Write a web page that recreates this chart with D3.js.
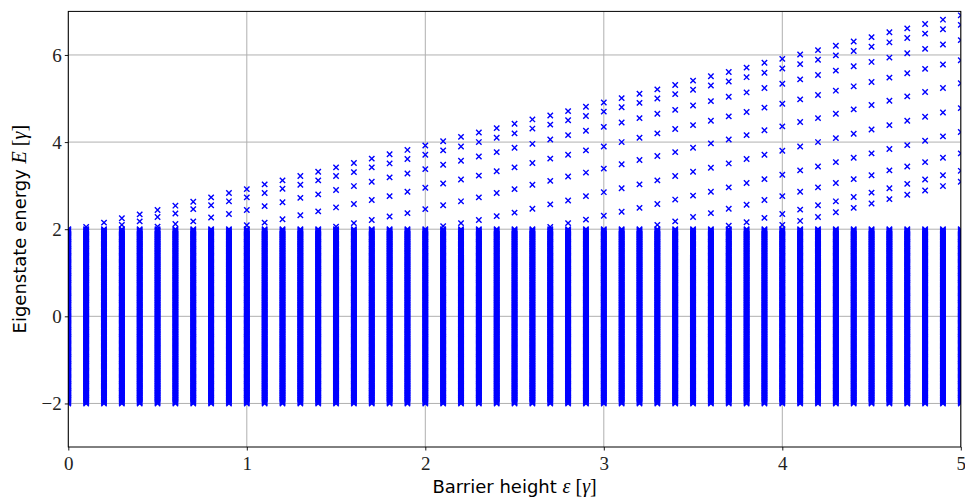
<!DOCTYPE html>
<html><head><meta charset="utf-8">
<script src="https://cdn.jsdelivr.net/npm/d3@7"></script>
<style>body{margin:0;background:#fff}svg{display:block}</style>
</head><body>
<svg id="chart" width="965" height="497"></svg>
<script>
// Barrier heights (x categories)
const epsilons = [0.0,0.1,0.2,0.3,0.4,0.5,0.6,0.7,0.8,0.9,1.0,1.1,1.2,1.3,1.4,1.5,1.6,1.7,1.8,1.9,2.0,2.1,2.2,2.3,2.4,2.5,2.6,2.7,2.8,2.9,3.0,3.1,3.2,3.3,3.4,3.5,3.6,3.7,3.8,3.9,4.0,4.1,4.2,4.3,4.4,4.5,4.6,4.7,4.8,4.9,5.0];

// Dense band of eigenstates between -2 and 2 (same in every column)
const bandLevels = [
-2.00,-1.98,-1.96,-1.94,-1.92,-1.90,-1.88,-1.86,-1.84,-1.82,-1.80,-1.78,-1.76,-1.74,-1.72,-1.70,-1.68,-1.66,-1.64,-1.62,
-1.60,-1.58,-1.56,-1.54,-1.52,-1.50,-1.48,-1.46,-1.44,-1.42,-1.40,-1.38,-1.36,-1.34,-1.32,-1.30,-1.28,-1.26,-1.24,-1.22,
-1.20,-1.18,-1.16,-1.14,-1.12,-1.10,-1.08,-1.06,-1.04,-1.02,-1.00,-0.98,-0.96,-0.94,-0.92,-0.90,-0.88,-0.86,-0.84,-0.82,
-0.80,-0.78,-0.76,-0.74,-0.72,-0.70,-0.68,-0.66,-0.64,-0.62,-0.60,-0.58,-0.56,-0.54,-0.52,-0.50,-0.48,-0.46,-0.44,-0.42,
-0.40,-0.38,-0.36,-0.34,-0.32,-0.30,-0.28,-0.26,-0.24,-0.22,-0.20,-0.18,-0.16,-0.14,-0.12,-0.10,-0.08,-0.06,-0.04,-0.02,
0.00,0.02,0.04,0.06,0.08,0.10,0.12,0.14,0.16,0.18,0.20,0.22,0.24,0.26,0.28,0.30,0.32,0.34,0.36,0.38,
0.40,0.42,0.44,0.46,0.48,0.50,0.52,0.54,0.56,0.58,0.60,0.62,0.64,0.66,0.68,0.70,0.72,0.74,0.76,0.78,
0.80,0.82,0.84,0.86,0.88,0.90,0.92,0.94,0.96,0.98,1.00,1.02,1.04,1.06,1.08,1.10,1.12,1.14,1.16,1.18,
1.20,1.22,1.24,1.26,1.28,1.30,1.32,1.34,1.36,1.38,1.40,1.42,1.44,1.46,1.48,1.50,1.52,1.54,1.56,1.58,
1.60,1.62,1.64,1.66,1.68,1.70,1.72,1.74,1.76,1.78,1.80,1.82,1.84,1.86,1.88,1.90,1.92,1.94,1.96,1.98,
2.00];

// Bound states above the band, one list per barrier height
const boundStates = [
  [],
  [2.05],
  [2.15],
  [2.25,2.10],
  [2.34,2.18],
  [2.44,2.28,2.06],
  [2.54,2.36,2.12],
  [2.63,2.46,2.18],
  [2.73,2.55,2.27],
  [2.83,2.64,2.35],
  [2.92,2.73,2.44,2.09],
  [3.03,2.83,2.53,2.15],
  [3.12,2.93,2.62,2.23],
  [3.22,3.02,2.72,2.32],
  [3.32,3.12,2.80,2.41],
  [3.42,3.22,2.90,2.50,2.06],
  [3.52,3.31,2.99,2.58,2.14],
  [3.62,3.42,3.09,2.67,2.21],
  [3.72,3.51,3.19,2.76,2.29],
  [3.82,3.61,3.28,2.86,2.37],
  [3.92,3.71,3.38,2.95,2.46],
  [4.02,3.81,3.48,3.05,2.55,2.07],
  [4.12,3.90,3.57,3.14,2.64,2.14],
  [4.22,4.00,3.67,3.23,2.73,2.21],
  [4.32,4.10,3.77,3.33,2.83,2.30],
  [4.42,4.20,3.87,3.42,2.92,2.38],
  [4.52,4.31,3.96,3.52,3.02,2.47],
  [4.61,4.40,4.06,3.62,3.11,2.57,2.05],
  [4.71,4.50,4.16,3.71,3.21,2.66,2.14],
  [4.81,4.60,4.26,3.81,3.30,2.76,2.22],
  [4.91,4.70,4.35,3.90,3.39,2.85,2.31],
  [5.01,4.80,4.45,4.00,3.49,2.94,2.40],
  [5.11,4.90,4.55,4.10,3.59,3.03,2.49],
  [5.21,5.00,4.65,4.20,3.68,3.12,2.58,2.10],
  [5.31,5.10,4.74,4.30,3.77,3.22,2.68,2.18],
  [5.41,5.20,4.84,4.39,3.87,3.32,2.77,2.28],
  [5.51,5.30,4.94,4.49,3.97,3.41,2.86,2.37],
  [5.61,5.39,5.04,4.59,4.06,3.51,2.96,2.47,2.08],
  [5.71,5.49,5.14,4.69,4.16,3.61,3.06,2.56,2.16],
  [5.82,5.59,5.24,4.79,4.27,3.71,3.15,2.67,2.26],
  [5.91,5.69,5.34,4.88,4.36,3.80,3.25,2.76,2.35,2.10],
  [6.01,5.79,5.44,4.98,4.46,3.90,3.35,2.86,2.45,2.19],
  [6.11,5.89,5.54,5.08,4.55,4.00,3.44,2.96,2.55,2.28],
  [6.21,5.99,5.64,5.18,4.65,4.09,3.54,3.06,2.64,2.39],
  [6.31,6.09,5.74,5.28,4.75,4.19,3.64,3.15,2.74,2.49],
  [6.41,6.19,5.84,5.38,4.85,4.29,3.74,3.24,2.84,2.59],
  [6.52,6.29,5.94,5.48,4.95,4.39,3.84,3.35,2.94,2.69],
  [6.61,6.39,6.04,5.58,5.05,4.49,3.93,3.44,3.04,2.79],
  [6.71,6.49,6.14,5.68,5.15,4.58,4.03,3.54,3.14,2.89],
  [6.81,6.59,6.24,5.78,5.24,4.68,4.13,3.64,3.24,2.99],
  [6.91,6.69,6.34,5.88,5.35,4.78,4.23,3.74,3.34,3.09]
];

const xTicks = [0,1,2,3,4,5];
const yTicks = [-2,0,2,4,6];
const xDomain = [0,5];
const yDomain = [-3,7];

const svg = d3.select('#chart');
const L = 68.3, R = 960.8, T = 11.4, B = 447;
const x = d3.scaleLinear().domain(xDomain).range([L, R]);
const y = d3.scaleLinear().domain(yDomain).range([B, T]);

svg.append('defs').append('clipPath').attr('id','clip')
  .append('rect').attr('x', L).attr('y', T).attr('width', R - L).attr('height', B - T);

// grid
const grid = svg.append('g');
grid.selectAll('line.gx').data(xTicks).join('line')
  .attr('class','gx')
  .attr('x1', d => x(d)).attr('x2', d => x(d)).attr('y1', T).attr('y2', B)
  .attr('stroke', '#b0b0b0').attr('stroke-width', 1);
grid.selectAll('line.gy').data(yTicks).join('line')
  .attr('class','gy')
  .attr('y1', d => y(d)).attr('y2', d => y(d)).attr('x1', L).attr('x2', R)
  .attr('stroke', '#b0b0b0').attr('stroke-width', 1);

// points
const pts = [];
epsilons.forEach((e, i) => {
  bandLevels.forEach(v => pts.push([e, v]));
  boundStates[i].forEach(v => pts.push([e, v]));
});
const a = 2.7;
const marker = `M${-a},${-a}L${a},${a}M${-a},${a}L${a},${-a}`;
svg.append('g').attr('clip-path','url(#clip)')
  .selectAll('path').data(pts).join('path')
  .attr('d', marker)
  .attr('transform', d => `translate(${x(d[0])},${y(d[1])})`)
  .attr('fill','none').attr('stroke','#0000ff').attr('stroke-width', 1.4);

// axes
const fmt = d => d3.format('d')(d).replace('-', '\u2212');
const xAxis = d3.axisBottom(x).tickValues(xTicks).tickSize(3.5).tickPadding(6).tickFormat(fmt);
const yAxis = d3.axisLeft(y).tickValues(yTicks).tickSize(3.5).tickPadding(3).tickFormat(fmt);
const gx = svg.append('g').attr('transform', `translate(0,${B})`).call(xAxis);
const gy = svg.append('g').attr('transform', `translate(${L},0)`).call(yAxis);
[gx, gy].forEach(g => {
  g.select('.domain').remove();
  g.selectAll('.tick line').attr('stroke', '#000').attr('stroke-width', 0.9);
  g.selectAll('.tick text').attr('font-family', '"Liberation Serif", serif')
    .attr('font-size', 19).attr('fill', '#222');
});

// frame
svg.append('rect').attr('x', L).attr('y', T).attr('width', R - L).attr('height', B - T)
  .attr('fill', 'none').attr('stroke', '#000').attr('stroke-width', 1);

// labels
const xl = svg.append('text').attr('x', (L + R) / 2).attr('y', 493)
  .attr('text-anchor', 'middle').attr('font-size', 18).attr('fill', '#000')
  .attr('font-family', '"DejaVu Sans", sans-serif');
xl.append('tspan').text('Barrier height ');
xl.append('tspan').attr('font-family', '"Liberation Serif", serif').attr('font-style', 'italic').attr('font-size', 20).text('ε');
xl.append('tspan').attr('font-family', '"Liberation Serif", serif').attr('font-size', 20).text(' [');
xl.append('tspan').attr('font-family', '"Liberation Serif", serif').attr('font-style', 'italic').attr('font-size', 20).text('γ');
xl.append('tspan').attr('font-family', '"Liberation Serif", serif').attr('font-size', 20).text(']');

const yl = svg.append('text').attr('transform', `translate(26,${(T + B) / 2}) rotate(-90)`)
  .attr('text-anchor', 'middle').attr('font-size', 18).attr('fill', '#000')
  .attr('font-family', '"DejaVu Sans", sans-serif');
yl.append('tspan').text('Eigenstate energy ');
yl.append('tspan').attr('font-family', '"Liberation Serif", serif').attr('font-style', 'italic').attr('font-size', 20).text('E');
yl.append('tspan').attr('font-family', '"Liberation Serif", serif').attr('font-size', 20).text(' [');
yl.append('tspan').attr('font-family', '"Liberation Serif", serif').attr('font-style', 'italic').attr('font-size', 20).text('γ');
yl.append('tspan').attr('font-family', '"Liberation Serif", serif').attr('font-size', 20).text(']');
</script>
</body></html>
